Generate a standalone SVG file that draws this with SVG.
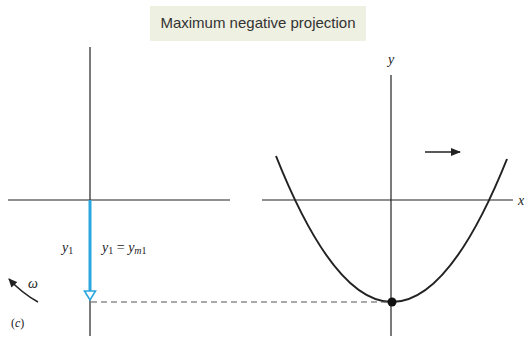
<svg xmlns="http://www.w3.org/2000/svg" width="528" height="350" viewBox="0 0 528 350">
<style>
.ax{stroke:#222;stroke-width:1.2;fill:none}
.m{font-family:"Liberation Serif",serif;font-style:italic;fill:#222}
</style>
<defs>
<marker id="ah" markerWidth="10" markerHeight="8" refX="9" refY="4" orient="auto" markerUnits="userSpaceOnUse">
<path d="M0,0 L10,4 L0,8 Z" fill="#222"/>
</marker>
<marker id="wh" markerWidth="9" markerHeight="8" refX="8" refY="4" orient="auto" markerUnits="userSpaceOnUse">
<path d="M0,0 L9,4 L0,8 Z" fill="#222"/>
</marker>
</defs>
<rect width="528" height="350" fill="#fff"/>
<g id="title">
<rect x="150" y="6" width="216" height="35" fill="#eef0e1"/>
<text x="258" y="28" text-anchor="middle" font-family="Liberation Sans,Arial,sans-serif" font-size="15" fill="#333">Maximum negative projection</text>
</g>
<g id="left-axes">
<line class="ax" x1="90" y1="47" x2="90" y2="336"/>
<line class="ax" x1="8" y1="200" x2="230" y2="200"/>
</g>
<g id="right-axes">
<line class="ax" x1="391" y1="75" x2="391" y2="336"/>
<line class="ax" x1="262" y1="200" x2="513" y2="200"/>
<text class="m" x="391" y="64" font-size="14" text-anchor="middle">y</text>
<text class="m" x="521" y="205" font-size="14" text-anchor="middle">x</text>
</g>
<g id="parabola">
<path d="M276,156 Q391.5,446.5 507,159" stroke="#222" stroke-width="2" fill="none"/>
<circle cx="392" cy="302" r="4.5" fill="#111"/>
</g>
<g id="connectors">
<line x1="90" y1="200" x2="90" y2="292" stroke="#2aa6df" stroke-width="3"/>
<path d="M84.5,291 L95.5,291 L90,300 Z" fill="#fff" stroke="#2aa6df" stroke-width="1.6"/>
<line x1="91" y1="302" x2="388" y2="302" stroke="#555" stroke-width="1.2" stroke-dasharray="6,4"/>
<line x1="425" y1="152" x2="460" y2="152" stroke="#222" stroke-width="1.5" marker-end="url(#ah)"/>
<path d="M38,302 A114,114 0 0 1 9,279" stroke="#222" stroke-width="1.5" fill="none" marker-end="url(#wh)"/>
</g>
<g id="labels">
<text class="m" x="62" y="252" font-size="14">y<tspan font-size="10" font-style="normal" dy="2">1</tspan></text>
<text class="m" x="102" y="252" font-size="14">y<tspan font-size="10" font-style="normal" dy="2">1</tspan><tspan font-style="normal" dy="-2"> = </tspan>y<tspan font-size="10" dy="2">m</tspan><tspan font-size="10" font-style="normal">1</tspan></text>
<text class="m" x="28" y="288" font-size="14">ω</text>
<text x="11" y="327" font-size="12" font-family="Liberation Serif,serif" fill="#222">(<tspan font-style="italic">c</tspan>)</text>
</g>
</svg>
